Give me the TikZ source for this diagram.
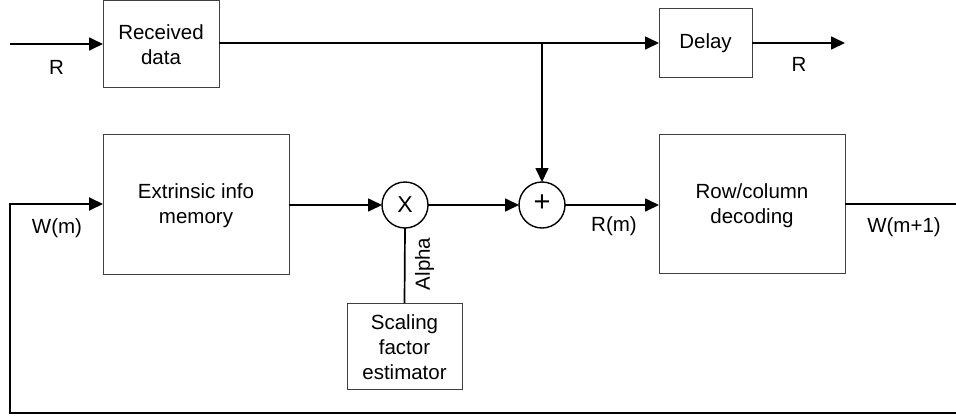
\documentclass[tikz,border=0pt]{standalone}
\usepackage{fontspec}
\setmainfont{Liberation Sans}
\usetikzlibrary{arrows.meta}
\begin{document}
\begin{tikzpicture}[x=1pt,y=-1pt,
  every node/.style={font=\fontsize{20.5}{25}\selectfont, inner sep=0pt, outer sep=0pt},
  blockbox/.style={draw=black!75, line width=1pt, align=center, rectangle},
  opcircle/.style={draw=black, line width=1.4pt, circle, minimum size=46pt},
  conn/.style={line width=1.7pt, line cap=butt},
  arr/.style={conn, -{Triangle[length=14pt,width=13pt]}},
  lbl/.style={}
]
\useasboundingbox (0,0) rectangle (956,418);

% blocks
\node[blockbox, minimum width=116pt, minimum height=87pt] (rx) at (161,44) {};
\node (rxt) at (161,45) [align=center] {Received\\data};
\node[blockbox, minimum width=93pt, minimum height=69pt] (dl) at (705.5,43) {Delay};
\node[blockbox, minimum width=186pt, minimum height=140pt] (ext) at (196,204) {};
\node (extt) at (196,206) [align=center] {Extrinsic info\\memory};
\node[blockbox, minimum width=186pt, minimum height=139pt] (rc) at (752,204) {};
\node (rct) at (752,206) [align=center] {Row/column\\decoding};
\node[blockbox, minimum width=115pt, minimum height=86pt] (sc) at (404.5,346) {};
\node (sct) at (404.5,347) [align=center] {Scaling\\factor\\estimator};

% operators
\node[opcircle] (mul) at (405,205) {};
\node (mult) at (405,205) [font=\fontsize{23}{23}\selectfont] {X};
\node[opcircle] (add) at (542,205) {};
\node (addt) at (542,203) [font=\fontsize{29}{29}\selectfont] {+};

% free ends
\coordinate (inL) at (10,44);
\coordinate (outR) at (845,43);
\coordinate (jn) at (542,43);
\coordinate (wR) at (956,204);
\coordinate (fbR) at (956,413);
\coordinate (fbL) at (10,413);

% connectors
\draw[arr] (inL) -- (rx.west);
\draw[arr] (rx.east |- jn) -- (dl.west);
\draw[arr] (dl.east) -- (outR);
\draw[arr] (jn) -- (add.north);
\draw[arr] (ext.east |- mul) -- (mul.west);
\draw[arr] (mul.east) -- (add.west);
\draw[arr] (add.east) -- (rc.west |- add);
\draw[conn] (rc.east) -- (wR);
\draw[conn] (mul.south) -- (sc.north);
\draw[arr, line width=1.9pt] (fbR) -- (fbL) |- (ext.west);

% labels
\node[lbl] (lR1) at (56.5,67) {R};
\node[lbl] (lR2) at (799,64) {R};
\node[lbl] (lW) at (57,228) {W(m)};
\node[lbl] (lRm) at (614,226) {R(m)};
\node[lbl] (lW1) at (904,227) {W(m+1)};
\node[lbl, rotate=90] (lA) at (424.5,264) {Alpha};
\end{tikzpicture}
\end{document}
